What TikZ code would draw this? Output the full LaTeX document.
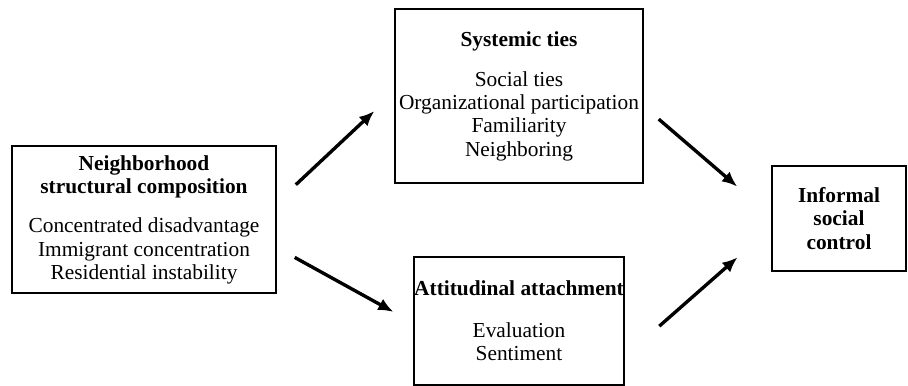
\documentclass[tikz,border=0pt]{standalone}
\usepackage{fontspec}
\setmainfont{Liberation Serif}
\usetikzlibrary{arrows.meta,calc}

\begin{document}
\begin{tikzpicture}[
		box/.style={draw, line width=1.2pt, align=center, inner sep=0pt, font=\fontsize{15.2}{16.6}\selectfont},
		flow/.style={-{Latex[length=0.38cm,width=0.32cm]}, line width=2.4pt},
		>=Latex
	]
	\useasboundingbox (0,0) rectangle (22.7,9.65);

	\node[box, minimum width=6.6cm, minimum height=3.675cm] (nbhd) at (3.6,4.16) {\textbf{Neighborhood}\\\textbf{structural composition}\\[0.4cm]Concentrated disadvantage\\Immigrant concentration\\Residential instability};
	\node[box, minimum width=6.2cm, minimum height=4.35cm] (ties) at (12.975,7.25) {\textbf{Systemic ties}\\[0.42cm]Social ties\\Organizational participation\\Familiarity\\Neighboring};
	\node[box, minimum width=5.2cm, minimum height=3.2cm] (attach) at (12.975,1.625) {\textbf{Attitudinal attachment}\\[0.45cm]Evaluation\\Sentiment};
	\node[box, minimum width=3.35cm, minimum height=2.625cm] (control) at (20.975,4.19) {\textbf{Informal}\\\textbf{social}\\\textbf{control}};

	\draw[flow, shorten <=0.65cm, shorten >=0.68cm] ($(nbhd.north east)!.385!(nbhd.south east)$) -- ($(ties.north west)!.48!(ties.south west)$);
	\draw[flow, shorten <=0.51cm, shorten >=0.57cm] ($(nbhd.north east)!.688!(nbhd.south east)$) -- ($(attach.north west)!.515!(attach.south west)$);
	\draw[flow, shorten <=0.49cm, shorten >=1.12cm] ($(ties.north east)!.559!(ties.south east)$) -- ($(control.north west)!.475!(control.south west)$);
	\draw[flow, shorten <=1.155cm, shorten >=1.12cm] ($(attach.north east)!.775!(attach.south east)$) -- ($(control.north west)!.588!(control.south west)$);
\end{tikzpicture}
\end{document}
